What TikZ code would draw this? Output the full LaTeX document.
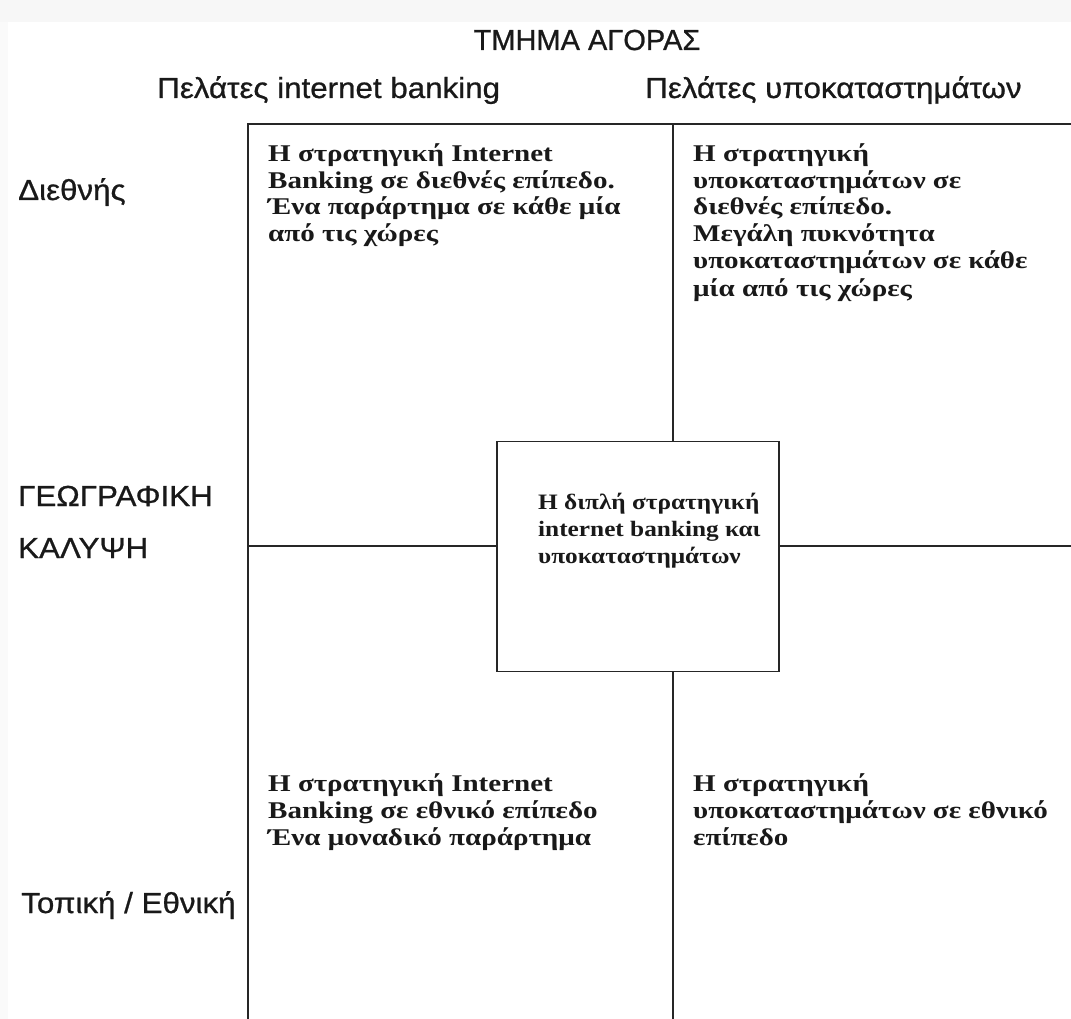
\documentclass[tikz,border=0pt]{standalone}
\usepackage{fontspec}
\setmainfont{Liberation Serif}
\newfontfamily\titlefont[FakeBold=0.8]{Liberation Sans}
\newfontfamily\labfont[FakeStretch=1.08,FakeBold=0.8]{Liberation Sans}
\newfontfamily\bodyfont[FakeStretch=1.21]{Liberation Serif}
\newfontfamily\midfont[FakeStretch=1.15]{Liberation Serif}
\begin{document}
\begin{tikzpicture}[x=1pt,y=-1pt,
  lab/.style={font=\labfont\fontsize{29}{34}\selectfont, inner sep=0pt, anchor=base west, text=black!90},
  head/.style={font=\titlefont\fontsize{29}{34}\selectfont, inner sep=0pt, anchor=base, text=black!90},
  cell/.style={font=\bodyfont\bfseries\fontsize{24}{27}\selectfont, align=left, inner sep=0pt, anchor=base west, text=black!90},
  midcell/.style={cell, font=\midfont\bfseries\fontsize{22}{27}\selectfont},
  gridline/.style={line width=1.6pt, draw=black!85},
  box/.style={draw=black!85, line width=1.6pt, minimum width=282pt, minimum height=230pt, inner sep=0pt}]
\useasboundingbox (0,0) rectangle (1071,1019);
\fill[gray!6] (0,0) rectangle (1071,22);
\fill[gray!4] (0,22) rectangle (8,1019);
% headings
\node[head] (title) at (587,50) {ΤΜΗΜΑ ΑΓΟΡΑΣ};
\node[lab] (colA) at (157,98) {Πελάτες internet banking};
\node[lab] (colB) at (645,98) {Πελάτες υποκαταστημάτων};
% row labels
\node[lab] (rowA) at (18,200) {Διεθνής};
\node[lab] (geo1) at (18,506) {ΓΕΩΓΡΑΦΙΚΗ};
\node[lab] (geo2) at (18,558) {ΚΑΛΥΨΗ};
\node[lab] (rowB) at (21,913) {Τοπική / Εθνική};
% grid
\coordinate (tl) at (248,124);
\coordinate (tr) at (1071,124);
\coordinate (bl) at (248,1019);
\coordinate (tm) at (673,124);
\coordinate (bm) at (673,1019);
\coordinate (lm) at (248,546);
\coordinate (rm) at (1071,546);
\node[box] (center) at (638,556.5) {};
\draw[gridline] (tr) -- (tl) -- (bl);
\draw[gridline] (tm) -- (center.north -| tm);
\draw[gridline] (center.south -| bm) -- (bm);
\draw[gridline] (lm) -- (center.west |- lm);
\draw[gridline] (center.east |- rm) -- (rm);
% cell texts (anchor = baseline of the last line)
\node[cell] (c1) at (268,242) {Η στρατηγική Internet\\Banking σε διεθνές επίπεδο.\\Ένα παράρτημα σε κάθε μία\\από τις χώρες};
\node[cell] (c2) at (693,296) {Η στρατηγική\\υποκαταστημάτων σε\\διεθνές επίπεδο.\\Μεγάλη πυκνότητα\\υποκαταστημάτων σε κάθε\\μία από τις χώρες};
\node[midcell] (c3) at (538,563) {Η διπλή στρατηγική\\internet banking και\\υποκαταστημάτων};
\node[cell] (c4) at (268,845) {Η στρατηγική Internet\\Banking σε εθνικό επίπεδο\\Ένα μοναδικό παράρτημα};
\node[cell] (c5) at (693,845) {Η στρατηγική\\υποκαταστημάτων σε εθνικό\\επίπεδο};
\end{tikzpicture}
\end{document}
